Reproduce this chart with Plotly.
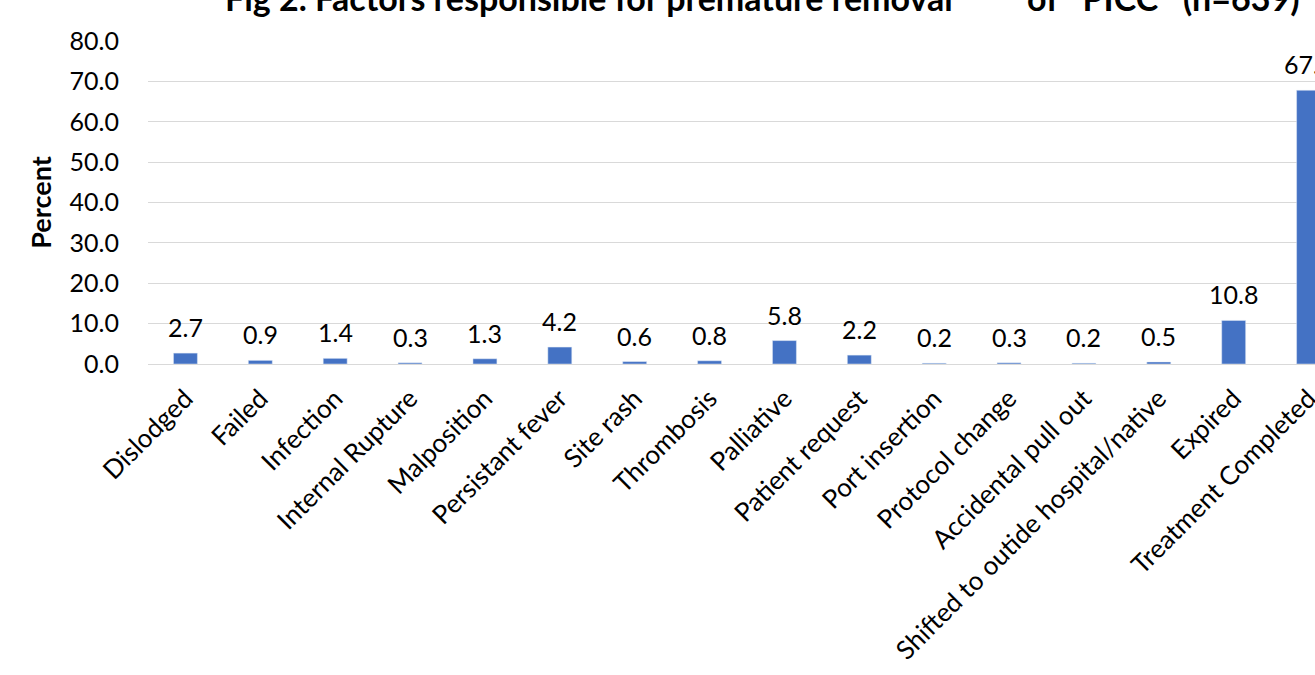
import plotly.graph_objects as go

categories = ["Dislodged", "Failed", "Infection", "Internal Rupture", "Malposition",
              "Persistant fever", "Site rash", "Thrombosis", "Palliative", "Patient request",
              "Port insertion", "Protocol change", "Accidental pull out",
              "Shifted to outide hospital/native", "Expired", "Treatment Completed"]
percent = [2.7, 0.9, 1.4, 0.3, 1.3, 4.2, 0.6, 0.8, 5.8, 2.2, 0.2, 0.3, 0.2, 0.5, 10.8, 67.8]
y_ticks = [0, 10, 20, 30, 40, 50, 60, 70, 80]

FONT = "Lato"
NB = "\u00a0"
title_text = ("Fig 2. Factors responsible for premature removal" + NB * 9 + "of" + NB * 3
              + "PICC" + NB * 3 + "(n=639)")

fig = go.Figure(go.Bar(
    x=categories, y=percent,
    marker_color="#4472C4",
    cliponaxis=True,
    hoverinfo="x+y",
))

annotations = [dict(
    x=c, y=v, xref="x", yref="y", text=f"{v:.1f}", showarrow=False,
    yanchor="middle", yshift=26,
    font=dict(family=FONT, size=25, color="#000000"),
) for c, v in zip(categories, percent)]

annotations.append(dict(
    text="<b>" + title_text + "</b>",
    xref="paper", yref="paper", x=(762 - 148) / (1315 - 148), y=1,
    xanchor="center", yanchor="bottom", yshift=21, showarrow=False,
    font=dict(family=FONT, size=34, color="#000000"),
))

fig.update_layout(
    width=1315, height=675,
    margin=dict(l=148, r=0, t=41, b=311),
    plot_bgcolor="white", paper_bgcolor="white",
    bargap=0.68,
    showlegend=False,
    font=dict(family=FONT, color="#000000"),
    annotations=annotations,
)
fig.update_xaxes(
    range=[-0.5, 15.086],
    tickangle=-45,
    tickfont=dict(family=FONT, size=26, color="#000000"),
    showgrid=False, showline=True, linecolor="#d9d9d9", linewidth=1,
    ticks="", automargin=False, ticklabelstandoff=8,
)
fig.update_yaxes(
    range=[0, 80], tickvals=y_ticks, tickformat=".1f",
    tickfont=dict(family=FONT, size=25, color="#000000"),
    showgrid=True, gridcolor="#d9d9d9", gridwidth=1,
    zeroline=False, showline=False, ticks="", ticklabelstandoff=28,
    automargin=False,
    title=dict(text="<b>Percent</b>", font=dict(family=FONT, size=27, color="#000000"), standoff=10),
)

fig.write_html("out.html")
